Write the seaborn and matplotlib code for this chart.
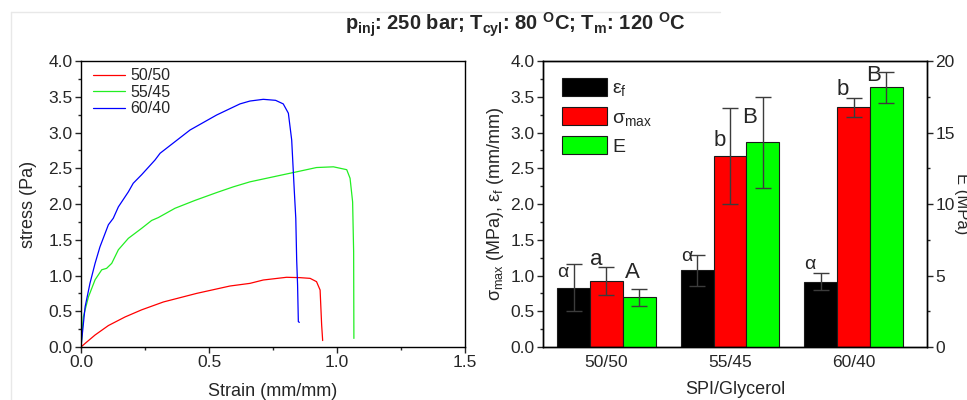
import numpy as np
import pandas as pd
import matplotlib
matplotlib.use("Agg")
import matplotlib.pyplot as plt
from matplotlib.lines import Line2D
from matplotlib.ticker import MultipleLocator
import seaborn as sns

# ---------------- data ----------------
blends = ["50/50", "55/45", "60/40"]

strain_5050 = [0, 0.016, 0.055, 0.107, 0.172, 0.237, 0.322, 0.452, 0.582, 0.66, 0.712,
               0.803, 0.855, 0.895, 0.92, 0.934, 0.94, 0.944]
stress_5050 = [0, 0.05, 0.168, 0.30, 0.42, 0.52, 0.63, 0.75, 0.853, 0.89, 0.937,
               0.975, 0.97, 0.96, 0.914, 0.797, 0.31, 0.09]

strain_5545 = [0, 0.009, 0.029, 0.055, 0.081, 0.10, 0.12, 0.146, 0.185, 0.237, 0.276,
               0.302, 0.367, 0.445, 0.53, 0.595, 0.66, 0.725, 0.79, 0.8425, 0.92, 0.986,
               1.038, 1.051, 1.061, 1.065, 1.066]
stress_5545 = [0, 0.42, 0.70, 0.94, 1.08, 1.10, 1.17, 1.36, 1.52, 1.66, 1.77,
               1.81, 1.94, 2.05, 2.16, 2.24, 2.31, 2.36, 2.41, 2.45, 2.51, 2.52,
               2.48, 2.36, 2.03, 1.33, 0.12]

strain_6040 = [0, 0.016, 0.035, 0.055, 0.074, 0.107, 0.126, 0.146, 0.185, 0.204, 0.237,
               0.289, 0.309, 0.426, 0.53, 0.621, 0.66, 0.712, 0.76, 0.79, 0.81, 0.823,
               0.833, 0.839, 0.8425, 0.846, 0.849, 0.853]
stress_6040 = [0, 0.56, 0.89, 1.17, 1.40, 1.71, 1.80, 1.96, 2.17, 2.29, 2.41,
               2.615, 2.71, 3.035, 3.245, 3.40, 3.44, 3.464, 3.45, 3.40, 3.27, 2.895,
               2.196, 1.80, 1.217, 0.867, 0.354, 0.345]

ratios = ["50/50", "55/45", "60/40"]
eps_f = [0.83, 1.07, 0.915]          # mm/mm
eps_f_err = [0.33, 0.217, 0.12]
sigma_max = [0.923, 2.67, 3.352]     # MPa
sigma_max_err = [0.20, 0.67, 0.13]
E_mod = [3.47, 14.31, 18.16]         # MPa
E_mod_err = [0.62, 3.18, 1.07]

eps_letters = ["\u03b1", "\u03b1", "\u03b1"]
eps_letter_y = [0.984, 1.207, 1.086]
sig_letters = ["a", "b", "b"]
sig_letter_y = [1.147, 2.816, 3.524]
E_letters = ["A", "B", "B"]
E_letter_y = [4.85, 15.69, 18.63]

metric_names = ["eps", "sigma", "E"]
metric_labels = ["\u03b5$_{\\rm f}$", "\u03c3$_{\\rm max}$", "E"]

# ---------------- style ----------------
sns.set_style("white")
plt.rcParams["font.family"] = ["Liberation Sans", "DejaVu Sans"]
plt.rcParams["mathtext.fontset"] = "custom"
plt.rcParams["mathtext.rm"] = "Liberation Sans"
plt.rcParams["mathtext.it"] = "Liberation Sans:italic"
plt.rcParams["mathtext.bf"] = "Liberation Sans:bold"
plt.rcParams["axes.edgecolor"] = "black"
plt.rcParams["axes.linewidth"] = 1.0

fig = plt.figure(figsize=(9.67, 4.0), dpi=100)
W, H = 967, 400

def px_axes(x0, y0, x1, y1):
    return fig.add_axes([x0 / W, 1 - y1 / H, (x1 - x0) / W, (y1 - y0) / H])

# faint screenshot frame
fig.add_artist(Line2D([11 / W, 720 / W], [1 - 12 / H, 1 - 12 / H], color="#e8e8e8", lw=1))
fig.add_artist(Line2D([11 / W, 11 / W], [1 - 12 / H, 0], color="#e8e8e8", lw=1))

# ---------------- left: stress-strain ----------------
ax1 = px_axes(81, 61, 465, 347)
curves = pd.concat([
    pd.DataFrame({"strain": strain_5050, "stress": stress_5050, "blend": "50/50"}),
    pd.DataFrame({"strain": strain_5545, "stress": stress_5545, "blend": "55/45"}),
    pd.DataFrame({"strain": strain_6040, "stress": stress_6040, "blend": "60/40"}),
], ignore_index=True)
line_pal = {"50/50": "#ff0000", "55/45": "#22ee22", "60/40": "#0000ff"}
sns.lineplot(data=curves, x="strain", y="stress", hue="blend", hue_order=blends,
             palette=line_pal, sort=False, estimator=None, lw=0.9, ax=ax1)
ax1.set_xlim(0, 1.5)
ax1.set_ylim(0, 4.0)
ax1.xaxis.set_major_locator(MultipleLocator(0.5))
ax1.xaxis.set_minor_locator(MultipleLocator(0.25))
ax1.yaxis.set_major_locator(MultipleLocator(0.5))
ax1.yaxis.set_minor_locator(MultipleLocator(0.25))
ax1.xaxis.set_major_formatter(matplotlib.ticker.FormatStrFormatter("%.1f"))
ax1.yaxis.set_major_formatter(matplotlib.ticker.FormatStrFormatter("%.1f"))
ax1.tick_params(axis="both", which="major", direction="out", length=4, width=1,
                labelsize=12.5, bottom=True, left=True, pad=2)
ax1.tick_params(axis="both", which="minor", direction="out", length=2.5, width=1,
                bottom=True, left=True)
ax1.set_xlabel("Strain (mm/mm)", fontsize=13, labelpad=9)
ax1.set_ylabel("stress (Pa)", fontsize=13, labelpad=8)
h, l = ax1.get_legend_handles_labels()
ax1.legend(h, l, loc="upper left", bbox_to_anchor=(0.031, 0.975), frameon=False,
           fontsize=11.5, handlelength=2.0, handletextpad=0.35, labelspacing=0.1,
           borderpad=0, borderaxespad=0)

# ---------------- right: bar chart ----------------
ax = px_axes(543, 61, 927, 347)
ax2 = ax.twinx()
bars = pd.DataFrame({
    "ratio": ratios * 3,
    "metric": ["eps"] * 3 + ["sigma"] * 3 + ["E"] * 3,
    "value": eps_f + sigma_max + E_mod,
})
bar_pal = {"eps": "#000000", "sigma": "#ff0000", "E": "#00ff00"}
common = dict(x="ratio", y="value", hue="metric", hue_order=metric_names, order=ratios,
              palette=bar_pal, saturation=1, errorbar=None, width=0.8, dodge=True,
              edgecolor="#1a1a1a", linewidth=0.8, legend=False)
sns.barplot(data=bars[bars.metric != "E"], ax=ax, **common)
sns.barplot(data=bars[bars.metric == "E"], ax=ax2, **common)

def real_bars(a):
    ps = [p for p in a.patches if np.isfinite(p.get_height()) and p.get_height() > 0]
    return sorted(ps, key=lambda p: p.get_x())

left_bars = real_bars(ax)      # eps1, sig1, eps2, sig2, eps3, sig3
green_bars = real_bars(ax2)    # E1, E2, E3
eps_bars = left_bars[0::2]
sig_bars = left_bars[1::2]

def cx(p):
    return p.get_x() + p.get_width() / 2

err_kw = dict(fmt="none", ecolor="#3c3c3c", elinewidth=1.0, capsize=5.5, capthick=1.0)
ax.errorbar([cx(p) for p in eps_bars], [p.get_height() for p in eps_bars], yerr=eps_f_err, **err_kw)
ax.errorbar([cx(p) for p in sig_bars], [p.get_height() for p in sig_bars], yerr=sigma_max_err, **err_kw)
ax2.errorbar([cx(p) for p in green_bars], [p.get_height() for p in green_bars], yerr=E_mod_err, **err_kw)

for p, t, y in zip(eps_bars, eps_letters, eps_letter_y):
    ax.annotate(t, (cx(p), y), xytext=(-7.5, 0), textcoords="offset points",
                ha="center", va="baseline", fontsize=14)
for p, t, y in zip(sig_bars, sig_letters, sig_letter_y):
    ax.annotate(t, (cx(p), y), xytext=(-7.5, 0), textcoords="offset points",
                ha="center", va="baseline", fontsize=16)
for p, t, y, dx in zip(green_bars, E_letters, E_letter_y, [-5, -9.5, -9.5]):
    ax2.annotate(t, (cx(p), y), xytext=(dx, 0), textcoords="offset points",
                 ha="center", va="baseline", fontsize=16)

ax.set_xlim(-0.514, 2.595)
ax.set_ylim(0, 4.0)
ax2.set_ylim(0, 20)
ax.yaxis.set_major_locator(MultipleLocator(0.5))
ax.yaxis.set_minor_locator(MultipleLocator(0.25))
ax.yaxis.set_major_formatter(matplotlib.ticker.FormatStrFormatter("%.1f"))
ax2.yaxis.set_major_locator(MultipleLocator(5))
ax2.yaxis.set_minor_locator(MultipleLocator(2.5))
ax.tick_params(axis="y", which="major", direction="out", length=4, width=1, labelsize=12.5,
               left=True, pad=2)
ax.tick_params(axis="y", which="minor", direction="out", length=2.5, width=1, left=True)
ax.tick_params(axis="x", which="both", length=0, labelsize=12.5, pad=6)
ax2.tick_params(axis="y", which="major", direction="out", length=4, width=1, labelsize=12.5,
                right=True, pad=2)
ax2.tick_params(axis="y", which="minor", direction="out", length=2.5, width=1, right=True)
ax.set_xlabel("SPI/Glycerol", fontsize=13, labelpad=8)
ax.set_ylabel("\u03c3$_{\\rm max}$ (MPa), \u03b5$_{\\rm f}$ (mm/mm)", fontsize=13, labelpad=3)
ax2.set_ylabel("E (MPa)", fontsize=12, rotation=270, labelpad=10)
ax2.set_xlabel("")

handles = [eps_bars[0], sig_bars[0], green_bars[0]]
ax2.legend(handles, metric_labels, loc="upper left", bbox_to_anchor=(0.049, 0.942),
           frameon=False, fontsize=14, handlelength=2.3, handleheight=1.05,
           handletextpad=0.3, labelspacing=0.45, borderpad=0, borderaxespad=0)

# ---------------- title ----------------
fig.text(515 / W, 1 - 25 / H,
         r"p$_{\mathbf{inj}}$: 250 bar; T$_{\mathbf{cyl}}$: 80 $^{\mathbf{O}}$C; "
         r"T$_{\mathbf{m}}$: 120 $^{\mathbf{O}}$C",
         ha="center", va="center", fontsize=14.5, fontweight="bold")

fig.savefig("out.png", dpi=100)
